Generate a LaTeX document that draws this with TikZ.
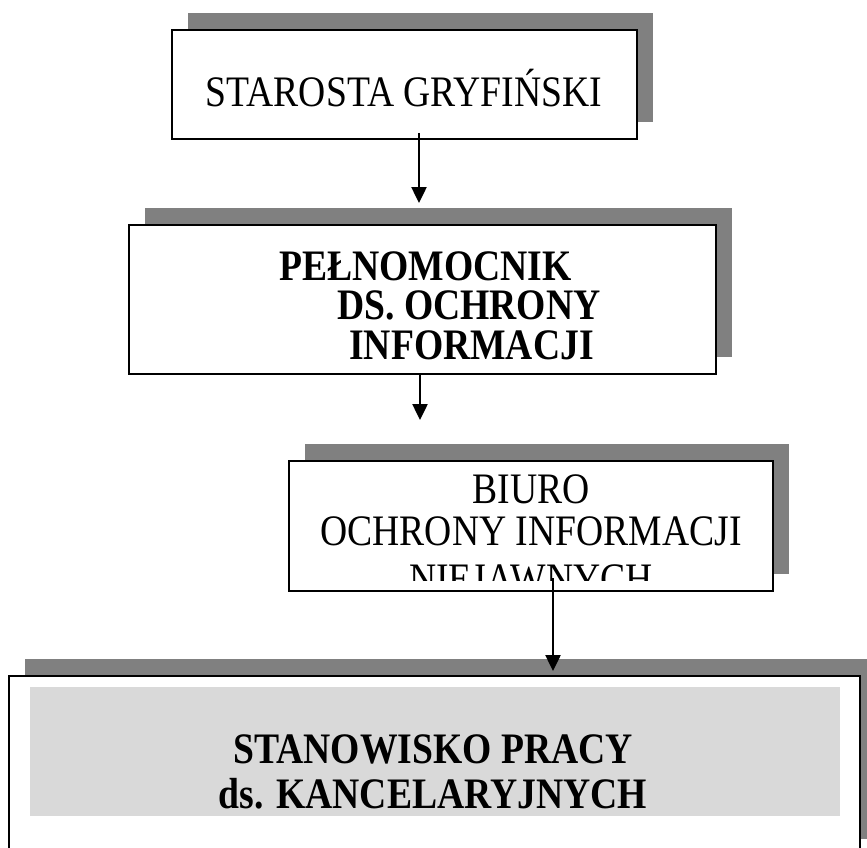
\documentclass[tikz,border=0pt]{standalone}
\usepackage{fontspec}
\setmainfont{Liberation Serif}[FakeStretch=0.865]
\usetikzlibrary{shadows,arrows.meta}

\definecolor{shadowgrey}{HTML}{808080}
\definecolor{panelgrey}{HTML}{D9D9D9}

\begin{document}
\begin{tikzpicture}[
    x=1pt, y=-1pt,
    unit/.style = {draw, line width=2pt, fill=white, inner sep=0pt,
        drop shadow={shadow xshift=16pt, shadow yshift=17pt, fill=shadowgrey, opacity=1}},
    lbl/.style = {anchor=base, inner sep=0pt, text height=29pt, text depth=0pt, font=\fontsize{43.5}{48}\selectfont},
    lblw/.style = {lbl, anchor=base west},
    arr/.style = {line width=2.5pt, -{Triangle[width=15pt, length=16pt]}}
]
\clip (0,0) rectangle (867,848);

% boxes
\node[unit, minimum width=465pt, minimum height=109pt] (starosta) at (404.5,84.5) {};
\node[unit, minimum width=587pt, minimum height=149pt] (pelnomocnik) at (422.5,299.5) {};
\node[unit, minimum width=484pt, minimum height=130pt] (biuro) at (531,526) {};
\node[unit, minimum width=851pt, minimum height=180pt] (kancelaria) at (434.5,766) {};
\node[fill=panelgrey, inner sep=0pt, minimum width=810pt, minimum height=129pt] (kancpanel) at (435,751.5) {};

% texts
\node[lbl] (tstarosta) at (404,107) {STAROSTA GRYFIŃSKI};

\node[lblw, font=\fontsize{43.5}{48}\selectfont\bfseries] (tpel1) at (279,280) {PEŁNOMOCNIK};
\node[lblw, font=\fontsize{43.5}{48}\selectfont\bfseries] (tpel2) at (337,319) {DS. OCHRONY};
\node[lblw, font=\fontsize{43.5}{48}\selectfont\bfseries] (tpel3) at (349,359) {INFORMACJI};

\begin{scope}
\clip (290,462) rectangle (772,580);
\node[lbl] (tbiuro1) at (531,503) {BIURO};
\node[lbl] (tbiuro2) at (531,545) {OCHRONY INFORMACJI};
\node[lbl] (tbiuro3) at (531,593) {NIEJAWNYCH};
\end{scope}

\node[lbl, font=\fontsize{43.5}{48}\selectfont\bfseries] (tkanc1) at (433,763) {STANOWISKO PRACY};
\node[lbl, font=\fontsize{43.5}{48}\selectfont\bfseries] (tkanc2) at (433,808) {ds. KANCELARYJNYCH};

% connectors
\draw[arr] ([xshift=14.5pt, yshift=7pt]starosta.south) -- ([xshift=-3.5pt, yshift=21pt]pelnomocnik.north);
\draw[arr] ([xshift=-2.5pt, yshift=2pt]pelnomocnik.south) -- ([xshift=-111pt, yshift=40pt]biuro.north);
\draw[arr] ([xshift=22pt, yshift=14pt]biuro.south) -- ([xshift=118.5pt, yshift=4pt]kancelaria.north);

\end{tikzpicture}
\end{document}
